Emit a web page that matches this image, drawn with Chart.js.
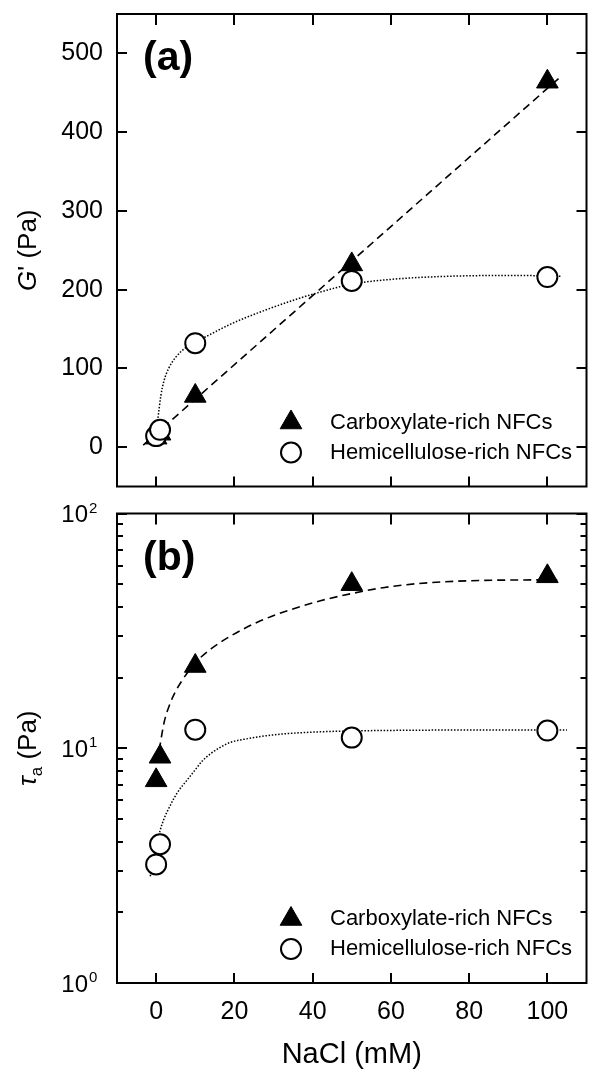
<!DOCTYPE html>
<html>
<head>
<meta charset="utf-8">
<title>G' and tau_a vs NaCl</title>
<script src="https://cdn.jsdelivr.net/npm/chart.js@4/dist/chart.umd.min.js"></script>
<style>
  html, body { margin: 0; padding: 0; background: #fff; overflow: hidden; }
  #wrap { position: relative; width: 590px; height: 1075px; overflow: hidden; }
  #wrap canvas { position: absolute; left: 0; }
  #chartA { top: 0; }
  #chartB { top: 500px; }
</style>
</head>
<body>
<div id="wrap">
  <canvas id="chartA" width="600" height="500"></canvas>
  <canvas id="chartB" width="600" height="575"></canvas>
</div>
<script>
const FONT = '"Liberation Sans", Arial, Helvetica, sans-serif';

// NaCl concentration (mM), shared by both panels
const naclMM = [0, 1, 10, 50, 100];
const seriesNames = ['Carboxylate-rich NFCs', 'Hemicellulose-rich NFCs'];

// (a) storage modulus G' (Pa)
const gCarboxylate = [12, 17, 65, 232, 464];
const gHemicellulose = [14, 22, 132, 211, 216];

// (b) apparent yield stress tau_a (Pa)
const tauCarboxylate = [7.3, 9.2, 22.4, 50, 54];
const tauHemicellulose = [3.2, 3.9, 12.0, 11.1, 11.9];

// trend lines, points picked along each drawn curve
const gCarbFitX = [-3.3, 103.3];
const gCarbFitY = [2.5, 470];
const gHemiFitX = [0.2, 0.5, 1.2, 2, 3.2, 5, 7.5, 10, 13, 19.4, 27.9, 36, 42, 50, 60, 75, 92, 103.5];
const gHemiFitY = [25, 38, 65, 84, 100, 114, 126, 133, 141, 157, 174, 188, 197, 207, 213, 217, 218, 217];
const tauCarbFitX = [0.8, 2, 3.5, 5, 6.5, 8.5, 10.3, 14, 19.4, 26, 33.7, 42, 50, 58, 67, 76, 84, 94, 103.5];
const tauCarbFitY = [9.8, 12.8, 15.4, 17.5, 19.3, 21.5, 23.4, 26.5, 30.3, 34.5, 38.6, 42.5, 45.6, 48.3, 50.3, 51.4, 51.9, 52.1, 52.2];
const tauHemiFitX = [-1.5, 0, 1, 2, 3.5, 5.5, 7.8, 10, 11.8, 14, 16, 19, 23.6, 28, 33.7, 42, 50, 62, 75, 90, 105];
const tauHemiFitY = [2.85, 3.75, 4.45, 5.0, 5.66, 6.5, 7.28, 8.1, 8.83, 9.5, 10.0, 10.6, 11.0, 11.3, 11.55, 11.75, 11.85, 11.92, 11.95, 11.95, 11.95];

// axis ticks
const xTicks = [0, 20, 40, 60, 80, 100];
const gTicks = [0, 100, 200, 300, 400, 500];
const tauMajor = [1, 10, 100];
const tauMinor = [2, 3, 4, 5, 6, 7, 8, 9, 20, 30, 40, 50, 60, 70, 80, 90];

Chart.defaults.font.family = FONT;
Chart.defaults.color = '#000';

const pts = (xs, ys) => xs.map((x, i) => ({ x: x, y: ys[i] }));

function panelDatasets(carb, hemi, carbFit, hemiFit) {
    return [
        {
            label: seriesNames[0], data: pts(naclMM, carb), showLine: false,
            pointStyle: 'triangle', pointRadius: 12.5, pointHoverRadius: 12.5,
            backgroundColor: '#000', borderColor: '#000', borderWidth: 1, order: 1
        },
        {
            label: seriesNames[1], data: pts(naclMM, hemi), showLine: false,
            pointStyle: 'circle', pointRadius: 10, pointHoverRadius: 10,
            backgroundColor: '#fff', borderColor: '#000', borderWidth: 2, order: 0
        },
        {
            label: 'fit', data: carbFit, showLine: true, pointRadius: 0,
            borderColor: '#000', borderWidth: 1.6, borderDash: [8, 5],
            cubicInterpolationMode: 'monotone', order: 2
        },
        {
            label: 'fit', data: hemiFit, showLine: true, pointRadius: 0,
            borderColor: '#000', borderWidth: 1.5, borderDash: [1.5, 1.7],
            cubicInterpolationMode: 'monotone', order: 2
        }
    ];
}

// box frame with inward tick marks on all four sides
const frameTicks = {
    id: 'frameTicks',
    afterDraw(chart, args, opts) {
        const { ctx, chartArea: a, scales: { x, y } } = chart;
        ctx.save();
        ctx.strokeStyle = '#000';
        ctx.lineWidth = 2;
        ctx.strokeRect(a.left, a.top, a.right - a.left, a.bottom - a.top);
        ctx.beginPath();
        opts.xTicks.forEach(v => {
            const px = Math.round(x.getPixelForValue(v));
            ctx.moveTo(px, a.top); ctx.lineTo(px, a.top + 11);
            ctx.moveTo(px, a.bottom); ctx.lineTo(px, a.bottom - 10);
        });
        const side = (vals, len) => vals.forEach(v => {
            const py = Math.round(y.getPixelForValue(v));
            ctx.moveTo(a.left, py); ctx.lineTo(a.left + len, py);
            ctx.moveTo(a.right, py); ctx.lineTo(a.right - len, py);
        });
        side(opts.yMajor, 10);
        side(opts.yMinor || [], 6);
        ctx.stroke();
        ctx.restore();
    }
};

// panel letter, rotated y title, legend and power-of-ten labels
const panelText = {
    id: 'panelText',
    afterDraw(chart, args, opts) {
        const { ctx, chartArea: a, scales: { y } } = chart;
        ctx.save();
        ctx.fillStyle = '#000';

        ctx.font = 'bold 41px ' + FONT;
        ctx.textAlign = 'left';
        ctx.textBaseline = 'middle';
        ctx.fillText(opts.letter, 143, a.top + 45);

        // y title, may mix italic and subscript pieces
        ctx.save();
        ctx.translate(29, (a.top + a.bottom) / 2);
        ctx.rotate(-Math.PI / 2);
        ctx.textBaseline = 'alphabetic';
        const fontOf = p => (p.italic ? 'italic ' : '') + (p.sub ? 17 : 26) + 'px ' + FONT;
        const widths = opts.title.map(p => { ctx.font = fontOf(p); return ctx.measureText(p.t).width; });
        let tx = -widths.reduce((s, w) => s + w, 0) / 2;
        opts.title.forEach((p, i) => {
            ctx.font = fontOf(p);
            ctx.fillText(p.t, tx, p.sub ? 13 : 7);
            tx += widths[i];
        });
        ctx.restore();

        // legend entries from the marker datasets
        const rows = chart.data.datasets.filter(d => d.showLine === false);
        rows.forEach((d, i) => {
            const ly = a.bottom - 64 + i * 30;
            ctx.fillStyle = d.backgroundColor;
            ctx.strokeStyle = d.borderColor;
            ctx.lineWidth = d.borderWidth;
            Chart.helpers.drawPoint(ctx, {
                pointStyle: d.pointStyle, radius: d.pointRadius, rotation: 0, borderWidth: d.borderWidth
            }, 291, ly);
            ctx.fillStyle = '#000';
            ctx.font = '22px ' + FONT;
            ctx.textAlign = 'left';
            ctx.textBaseline = 'middle';
            ctx.fillText(d.label, 330, ly);
        });

        // log axis labels written as 10 with a raised exponent
        (opts.powers || []).forEach(v => {
            const py = y.getPixelForValue(v);
            ctx.font = '24px ' + FONT;
            ctx.textAlign = 'right';
            ctx.textBaseline = 'alphabetic';
            ctx.fillText('10', 88, py + 8.5);
            ctx.font = '15px ' + FONT;
            ctx.textAlign = 'left';
            ctx.fillText(String(Math.round(Math.log10(v))), 89, py - 1);
        });
        ctx.restore();
    }
};

const noPad = s => { s.paddingTop = 0; s.paddingBottom = 0; s.paddingLeft = 0; s.paddingRight = 0; };

new Chart(document.getElementById('chartA'), {
    type: 'scatter',
    data: {
        datasets: panelDatasets(gCarboxylate, gHemicellulose,
            pts(gCarbFitX, gCarbFitY), pts(gHemiFitX, gHemiFitY))
    },
    options: {
        responsive: false,
        devicePixelRatio: 1,
        animation: false,
        events: [],
        layout: { padding: { left: 0, top: 14, right: 7, bottom: 9 } },
        plugins: {
            legend: { display: false },
            tooltip: { enabled: false },
            frameTicks: { xTicks: xTicks, yMajor: gTicks },
            panelText: { letter: '(a)', title: [{ t: 'G', italic: true }, { t: "' (Pa)" }] }
        },
        scales: {
            x: { type: 'linear', min: -10, max: 110, display: false },
            y: {
                type: 'linear', min: -50, max: 550,
                grid: { display: false, drawTicks: false },
                border: { display: false },
                ticks: { font: { size: 25 }, color: '#000', padding: 14 },
                afterBuildTicks: s => { s.ticks = gTicks.map(v => ({ value: v })); },
                afterFit: s => { s.width = 117; noPad(s); }
            }
        }
    },
    plugins: [frameTicks, panelText]
});

new Chart(document.getElementById('chartB'), {
    type: 'scatter',
    data: {
        datasets: panelDatasets(tauCarboxylate, tauHemicellulose,
            pts(tauCarbFitX, tauCarbFitY), pts(tauHemiFitX, tauHemiFitY))
    },
    options: {
        responsive: false,
        devicePixelRatio: 1,
        animation: false,
        events: [],
        layout: { padding: { left: 0, top: 5, right: 7, bottom: 0 } },
        plugins: {
            legend: { display: false },
            tooltip: { enabled: false },
            frameTicks: { xTicks: xTicks, yMajor: tauMajor, yMinor: tauMinor },
            panelText: {
                letter: '(b)',
                title: [{ t: '\u03C4', italic: true }, { t: 'a', sub: true }, { t: ' (Pa)' }],
                powers: tauMajor
            }
        },
        scales: {
            x: {
                type: 'linear', min: -10, max: 110,
                grid: { display: false, drawTicks: false },
                border: { display: false },
                ticks: { font: { size: 25 }, color: '#000', padding: 14, maxRotation: 0, autoSkip: false },
                afterBuildTicks: s => { s.ticks = xTicks.map(v => ({ value: v })); },
                title: {
                    display: true, text: 'NaCl (mM)', color: '#000',
                    font: { size: 29 }, padding: { top: 0, bottom: 3 }
                },
                afterFit: s => { s.height = 92; noPad(s); }
            },
            y: {
                type: 'logarithmic', min: 1, max: 100,
                grid: { display: false, drawTicks: false },
                border: { display: false },
                ticks: { display: false },
                afterBuildTicks: s => { s.ticks = tauMajor.map(v => ({ value: v })); },
                afterFit: s => { s.width = 117; noPad(s); }
            }
        }
    },
    plugins: [frameTicks, panelText]
});
</script>
</body>
</html>
